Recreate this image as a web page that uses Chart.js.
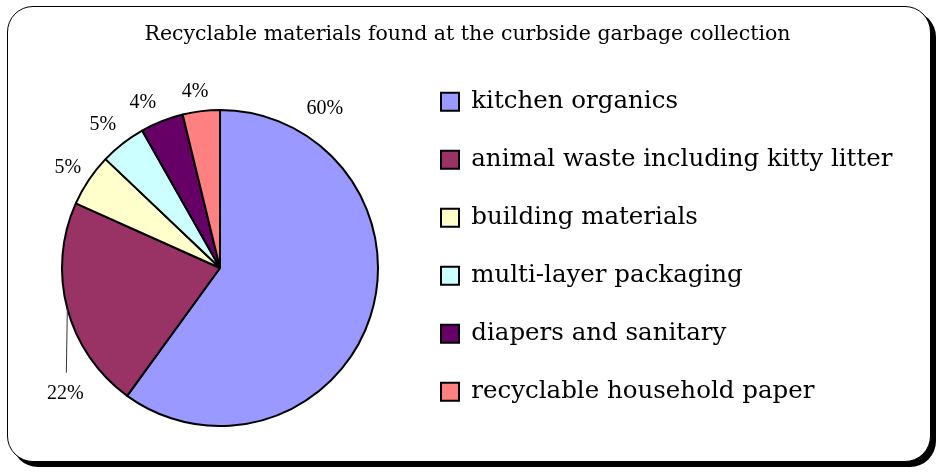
<!DOCTYPE html>
<html>
<head>
<meta charset="utf-8">
<script src="https://cdn.jsdelivr.net/npm/chart.js@4"></script>
<style>
  html, body { margin: 0; padding: 0; background: #fff; }
  #wrap { position: relative; width: 940px; height: 472px; overflow: hidden; }
  #frame {
    position: absolute; left: 7px; top: 6px; width: 924px; height: 456px;
    box-sizing: border-box; border: 1.5px solid #000; border-radius: 26px;
    box-shadow: 5px 5px 0 #000; background: #fff;
  }
  #chart { position: absolute; left: 0; top: 0; }
</style>
</head>
<body>
<div id="wrap">
  <div id="frame"></div>
  <canvas id="chart" width="940" height="472"></canvas>
</div>
<script>
const categories = [
    'kitchen organics',
    'animal waste including kitty litter',
    'building materials',
    'multi-layer packaging',
    'diapers and sanitary',
    'recyclable household paper'
];
const shares = [60, 21.7, 5.4, 4.7, 4.4, 3.8];

const sliceColors = ['#9999FF', '#993366', '#FFFFCC', '#CCFFFF', '#660066', '#FF8080'];

// where each percent label sits: fraction along the arc, gap outside the rim,
// or a dropped label on a leader line
const labelPlace = [
    {at: 0.154, gap: 33},
    {at: 0.5, drop: [-1, 64]},
    {at: 0.47, gap: 24},
    {at: 0.42, gap: 27},
    {at: 0.28, gap: 24},
    {at: 0.41, gap: 20}
];

const legendFont = {family: '"DejaVu Serif"', size: 24.5},
    legendBox = 18,
    legendGap = 33.5,
    pieRadius = 158;

const percentLabels = {
    id: 'percentLabels',
    afterDatasetsDraw(chart) {
        let ctx = chart.ctx,
            meta = chart.getDatasetMeta(0),
            total = shares.reduce((a, b) => a + b, 0);

        ctx.save();
        ctx.font = '20px "Liberation Serif"';
        ctx.fillStyle = '#000';
        ctx.textAlign = 'center';
        ctx.textBaseline = 'middle';

        meta.data.forEach(function (arc, i) {
            let p = arc.getProps(['x', 'y', 'startAngle', 'endAngle', 'outerRadius'], true);
            let place = labelPlace[i];
            let a = p.startAngle + (p.endAngle - p.startAngle) * place.at;
            let text = Math.round(shares[i] / total * 100) + '%';

            if (place.drop) {
                let ex = p.x + Math.cos(a) * p.outerRadius,
                    ey = p.y + Math.sin(a) * p.outerRadius;
                ctx.beginPath();
                ctx.lineWidth = 1;
                ctx.strokeStyle = '#333';
                ctx.moveTo(ex, ey);
                ctx.lineTo(ex + place.drop[0], ey + place.drop[1]);
                ctx.stroke();
                ctx.fillText(text, ex + place.drop[0] - 1, ey + place.drop[1] + 21);
            } else {
                let r = p.outerRadius + place.gap;
                ctx.fillText(text, p.x + Math.cos(a) * r, p.y + Math.sin(a) * r);
            }
        });
        ctx.restore();
    }
};

let canvas = document.getElementById('chart'),
    ctx = canvas.getContext('2d');

// legend width as Chart.js will fit it, so the pie lands at x = 220
ctx.font = legendFont.size + 'px ' + legendFont.family;
let textW = Math.max(...categories.map(c => ctx.measureText(c).width));
let legendW = legendGap + legendBox + legendFont.size / 2 + textW + 10;
let legendLeft = 441 - legendGap;
let padRight = Math.max(canvas.width - legendLeft - legendW, 0);
let padLeft = 2 * 220 - legendLeft;

new Chart(ctx, {
    type: 'pie',
    data: {
        labels: categories,
        datasets: [{
            data: shares,
            backgroundColor: sliceColors,
            borderColor: '#000',
            borderWidth: 2,
            radius: pieRadius
        }]
    },
    options: {
        responsive: false,
        animation: false,
        devicePixelRatio: 1,
        layout: {
            padding: {left: padLeft, right: padRight, top: 0, bottom: 0}
        },
        plugins: {
            title: {
                display: true,
                text: 'Recyclable materials found at the curbside garbage collection',
                color: '#000',
                font: {family: '"DejaVu Serif"', size: 20.5, weight: 'normal'},
                padding: {top: 22.7, bottom: 16.7}
            },
            legend: {
                position: 'right',
                align: 'start',
                maxWidth: 700,
                title: {display: true, text: '', padding: {top: 41.5, bottom: 0}},
                labels: {
                    color: '#000',
                    font: legendFont,
                    boxWidth: legendBox,
                    boxHeight: legendBox,
                    padding: legendGap
                }
            },
            tooltip: {enabled: false}
        }
    },
    plugins: [percentLabels]
});
</script>
</body>
</html>
